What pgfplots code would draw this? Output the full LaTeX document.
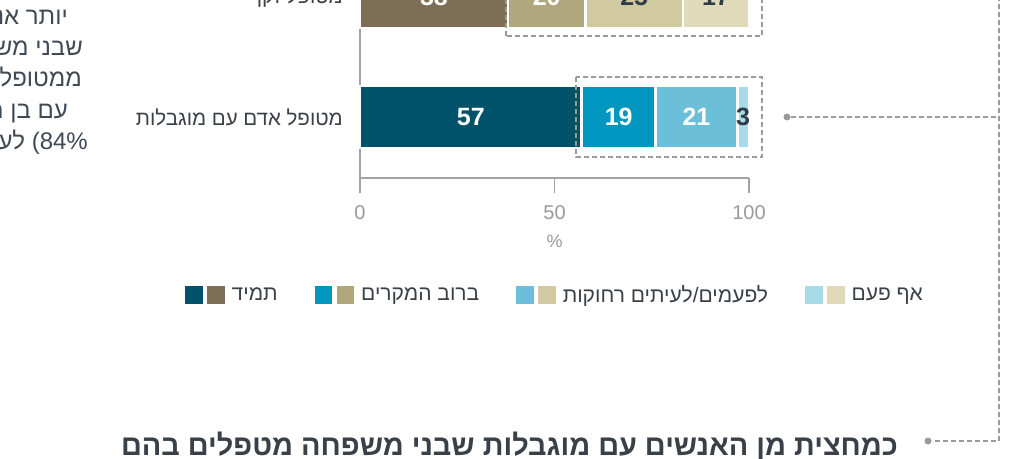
\documentclass[border=0pt]{standalone}
\usepackage{fontspec}
\usepackage{pgfplots}
\pgfplotsset{compat=1.18}
\setmainfont{Liberation Sans}
\newfontfamily\heb[Script=Hebrew]{Liberation Sans}
\TeXXeTstate=1
\definecolor{cT1}{HTML}{00526A}
\definecolor{cT2}{HTML}{0096C0}
\definecolor{cT3}{HTML}{6BBFD8}
\definecolor{cT4}{HTML}{A8DBE8}
\definecolor{cK1}{HTML}{7D6E55}
\definecolor{cK2}{HTML}{B0A77C}
\definecolor{cK3}{HTML}{D1C99F}
\definecolor{cK4}{HTML}{E0DABB}
\definecolor{axgray}{HTML}{A3A3A3}
\definecolor{tickgray}{HTML}{9A9A9A}
\definecolor{txt}{HTML}{3A4048}
\definecolor{sidetxt}{HTML}{3F4A55}
\definecolor{numdark}{HTML}{2F3B48}
\definecolor{dashc}{HTML}{9A9A9A}
\pgfplotsset{
  barbase/.style={
    scale only axis, width=389pt, height=241pt,
    xmin=0, xmax=100, ymin=-0.5083, ymax=1.5,
    at={(360pt,280pt)}, anchor=south west,
    xbar stacked, bar width=62pt,
    clip=false,
    /pgf/number format/assume math mode=true,
    point meta=rawx,
    nodes near coords={\pgfmathprintnumber{\pgfplotspointmeta}},
    nodes near coords align=center,
    every node near coord/.append style={anchor=center,
      font=\fontsize{25}{25}\selectfont\bfseries},
  },
  segT/.style n args={3}{fill=#1, draw=white, line width=2.5pt,
      every node near coord/.append style={text=#3},
      legend image code/.code={
        \fill[#1] (0pt,-8pt) rectangle (15pt,8pt);
        \fill[#2] (22pt,-8pt) rectangle (37pt,8pt);
        \path (42pt,0pt);}},
  segK/.style 2 args={fill=#1, draw=white, line width=2.5pt,
      every node near coord/.append style={text=#2}},
}
\begin{document}
\begin{tikzpicture}[x=1pt,y=1pt]
\useasboundingbox (0,0) rectangle (1017,458);
\fill[white] (0,0) rectangle (1017,458);
\clip (0,0) rectangle (1017,458);

% left text block (cut off at the left edge)
\begin{scope}[every node/.style={font=\heb\fontsize{24}{24}\selectfont, text=sidetxt, inner sep=0pt, anchor=base east}]
\node at (68,433) {\beginR יותר אנשים\endR};
\node at (83,402) {\beginR שבני משפחה\endR};
\node at (82,371) {\beginR ממטופל זקן\endR};
\node at (68,339) {\beginR עם בן משפחה\endR};
\node at (88,308) {{\heb לעומת} 84\%)};
\end{scope}

\begin{axis}[barbase,
  axis x line*=bottom, axis y line*=left,
  axis line style={axgray, line width=1.5pt, -},
  xtick={0,50,100}, tick align=outside, major tick length=15pt,
  xtick style={axgray, line width=1.5pt},
  xticklabel style={text=tickgray, font=\fontsize{20}{20}\selectfont, anchor=base, yshift=-26pt},
  ytick={0,1},
  yticklabels={{\beginR מטופל אדם עם מוגבלות\endR},{\beginR מטופל זקן\endR}},
  ytick style={draw=none},
  yticklabel style={font=\heb\fontsize{20.5}{20.5}\selectfont, text=txt, anchor=east, inner sep=0pt, xshift=-2pt},
  xlabel={\%},
  xlabel style={at={(axis description cs:0.5,0)}, anchor=center, yshift=-63pt, text=tickgray, font=\fontsize{18}{18}\selectfont},
  legend columns=4,
  legend style={draw=none, fill=none, inner sep=0pt, at={(-0.4499,-0.4855)}, anchor=west,
    font=\heb\fontsize{21}{21}\selectfont, text=txt,
    /tikz/every even column/.append style={column sep=35pt}},
]
\addplot[segT={cT1}{cK1}{white}] coordinates {(57,0)};
\addplot[segT={cT2}{cK2}{white}] coordinates {(19,0)};
\addplot[segT={cT3}{cK3}{white}] coordinates {(21,0)};
\addplot[segT={cT4}{cK4}{numdark}] coordinates {(3,0)};
\legend{{\beginR תמיד\endR},{\beginR ברוב המקרים\endR},{\beginR לפעמים/לעיתים רחוקות\endR},{\beginR אף פעם\endR}}
\end{axis}

\begin{axis}[barbase, hide axis]
\addplot[segK={cK1}{white}] coordinates {(38,1)};
\addplot[segK={cK2}{white}] coordinates {(20,1)};
\addplot[segK={cK3}{numdark}] coordinates {(25,1)};
\addplot[segK={cK4}{numdark}] coordinates {(17,1)};
\end{axis}

% dashed highlight boxes and connectors
\begin{scope}[dashc, line width=1.5pt, dash pattern=on 5pt off 3pt]
\draw (576,381) rectangle (762,301);
\draw (506,422) rectangle (762,501);
\draw (791,341) -- (999,341);
\draw (999,462) -- (999,17) -- (932,17);
\end{scope}
\fill[dashc] (787,341) circle (3.5);
\fill[dashc] (928,17) circle (3.5);

\node[anchor=base east, inner sep=0pt, font=\heb\bfseries\fontsize{28.9}{28.9}\selectfont, text=txt] at (898,3)
  {\beginR כמחצית מן האנשים עם מוגבלות שבני משפחה מטפלים בהם\endR};
\end{tikzpicture}
\end{document}
